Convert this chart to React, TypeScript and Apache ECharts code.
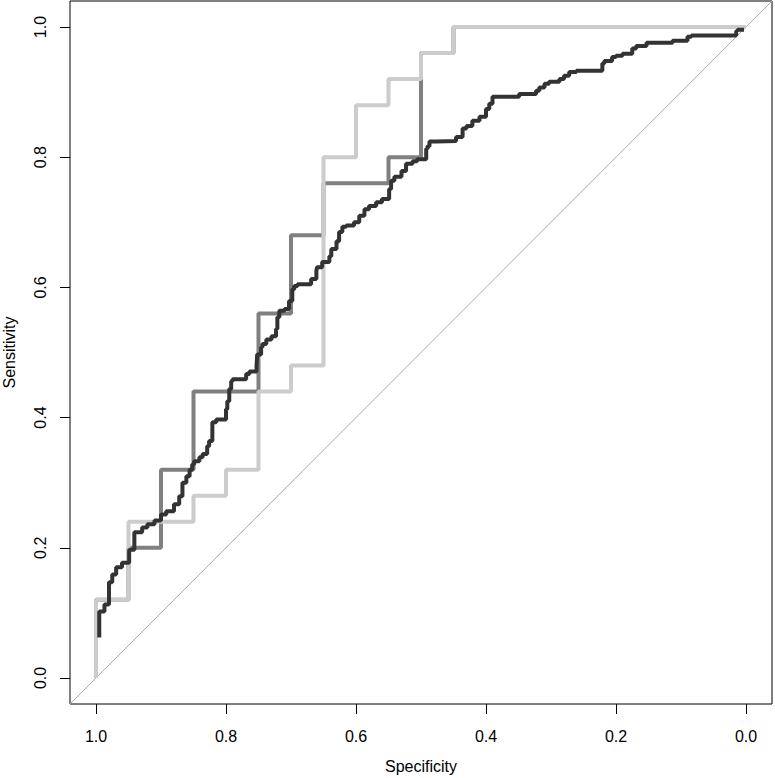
import React, { useEffect, useRef } from "react";
import * as echarts from "echarts";

// Reference (chance) line: sensitivity = 1 - specificity, across the whole box
const diagSpec = [1.04, -0.04];
const diagSens = [-0.04, 1.04];

// Light gray ROC curve
const lightSpec = [1, 1, 0.95, 0.95, 0.85, 0.85, 0.8, 0.8, 0.75, 0.75, 0.7, 0.7, 0.65, 0.65, 0.6, 0.6, 0.55, 0.55, 0.5, 0.5, 0.45, 0.45, 0];
const lightSens = [0, 0.12, 0.12, 0.24, 0.24, 0.28, 0.28, 0.32, 0.32, 0.44, 0.44, 0.48, 0.48, 0.8, 0.8, 0.88, 0.88, 0.92, 0.92, 0.96, 0.96, 1, 1];

// Medium gray ROC curve
const midSpec = [1, 1, 0.95, 0.95, 0.9, 0.9, 0.85, 0.85, 0.75, 0.75, 0.7, 0.7, 0.65, 0.65, 0.55, 0.55, 0.5, 0.5, 0.5, 0.45, 0.45, 0];
const midSens = [0, 0.12, 0.12, 0.2, 0.2, 0.32, 0.32, 0.44, 0.44, 0.56, 0.56, 0.68, 0.68, 0.76, 0.76, 0.8, 0.8, 0.92, 0.96, 0.96, 1, 1];

// Dark ROC curve (many small steps)
const darkSpec = [
  0.995, 0.995, 0.987, 0.986, 0.98, 0.98, 0.975, 0.969, 0.96, 0.949,
  0.949, 0.941, 0.941, 0.929, 0.921, 0.91, 0.9, 0.892, 0.88, 0.872,
  0.867, 0.867, 0.861, 0.856, 0.852, 0.849, 0.841, 0.836, 0.829, 0.826,
  0.821, 0.815, 0.8, 0.798, 0.795, 0.792, 0.79, 0.769, 0.764, 0.753,
  0.752, 0.746, 0.744, 0.738, 0.73, 0.723, 0.721, 0.718, 0.71, 0.703,
  0.698, 0.695, 0.69, 0.669, 0.661, 0.66, 0.652, 0.641, 0.638, 0.63,
  0.626, 0.621, 0.615, 0.603, 0.595, 0.587, 0.58, 0.569, 0.56, 0.549,
  0.546, 0.541, 0.53, 0.523, 0.513, 0.506, 0.492, 0.49, 0.487, 0.476,
  0.446, 0.436, 0.43, 0.421, 0.41, 0.4, 0.395, 0.39, 0.384, 0.349,
  0.346, 0.323, 0.318, 0.31, 0.303, 0.287, 0.28, 0.272, 0.261, 0.256,
  0.221, 0.218, 0.206, 0.2, 0.19, 0.175, 0.169, 0.153, 0.152, 0.113,
  0.107, 0.09, 0.084, 0.015, 0.013, 0.003,
];
const darkSens = [
  0.062, 0.102, 0.102, 0.113, 0.113, 0.14, 0.147, 0.159, 0.17, 0.177,
  0.187, 0.197, 0.21, 0.224, 0.231, 0.236, 0.242, 0.251, 0.256, 0.267,
  0.279, 0.29, 0.3, 0.31, 0.32, 0.328, 0.333, 0.339, 0.344, 0.356,
  0.364, 0.393, 0.397, 0.413, 0.425, 0.444, 0.456, 0.459, 0.467, 0.471,
  0.479, 0.497, 0.508, 0.513, 0.52, 0.525, 0.536, 0.554, 0.564, 0.567,
  0.579, 0.597, 0.602, 0.605, 0.613, 0.625, 0.631, 0.639, 0.648, 0.659,
  0.671, 0.685, 0.693, 0.695, 0.7, 0.71, 0.72, 0.725, 0.731, 0.736,
  0.751, 0.764, 0.77, 0.779, 0.79, 0.794, 0.797, 0.813, 0.817, 0.824,
  0.825, 0.831, 0.844, 0.848, 0.856, 0.862, 0.874, 0.882, 0.893, 0.893,
  0.897, 0.897, 0.902, 0.907, 0.913, 0.916, 0.92, 0.925, 0.931, 0.933,
  0.933, 0.944, 0.948, 0.954, 0.956, 0.959, 0.967, 0.971, 0.976, 0.976,
  0.979, 0.979, 0.985, 0.987, 0.994, 0.996,
];

const tickValues = [0, 0.2, 0.4, 0.6, 0.8, 1.0];

const pairs = (xs: number[], ys: number[]) => xs.map((x, i) => [x, ys[i]]);

const FONT = "Liberation Sans, Arial, Helvetica, sans-serif";

export default function App() {
  const ref = useRef<HTMLDivElement>(null);
  useEffect(() => {
    if (!ref.current) return;
    const chart = echarts.init(ref.current, null, { renderer: "svg" });
    const axisCommon = {
      type: "value" as const,
      min: -0.04,
      max: 1.04,
      axisLine: { show: false, onZero: false },
      splitLine: { show: false },
      nameLocation: "middle" as const,
      nameTextStyle: { color: "#000", fontSize: 16, fontFamily: FONT },
      axisTick: {
        show: true,
        inside: false,
        length: 10,
        customValues: tickValues,
        lineStyle: { color: "#000", width: 1 },
      },
    };
    chart.setOption({
      animation: false,
      backgroundColor: "#ffffff",
      grid: {
        show: true,
        left: 70,
        right: 3,
        top: 1,
        bottom: 74,
        outerBoundsMode: "none",
        containLabel: false,
        borderColor: "#000",
        borderWidth: 1,
        backgroundColor: "transparent",
      },
      xAxis: {
        ...axisCommon,
        position: "bottom",
        inverse: true,
        name: "Specificity",
        nameGap: 54,
        axisLabel: {
          show: true,
          customValues: tickValues,
          margin: 24,
          color: "#000",
          fontSize: 16,
          fontFamily: FONT,
          formatter: (v: number) => v.toFixed(1),
        },
      },
      yAxis: {
        ...axisCommon,
        position: "left",
        name: "Sensitivity",
        nameGap: 53,
        nameRotate: 90,
        axisLabel: {
          show: true,
          customValues: tickValues,
          margin: 22,
          rotate: 90,
          color: "#000",
          fontSize: 16,
          fontFamily: FONT,
          formatter: (v: number) => v.toFixed(1),
        },
      },
      series: [
        {
          name: "chance",
          type: "line",
          data: pairs(diagSpec, diagSens),
          symbol: "none",
          silent: true,
          lineStyle: { color: "#aaaaaa", width: 1 },
        },
        {
          name: "medium",
          type: "line",
          data: pairs(midSpec, midSens),
          symbol: "none",
          silent: true,
          lineStyle: { color: "#808080", width: 4 },
        },
        {
          name: "light",
          type: "line",
          data: pairs(lightSpec, lightSens),
          symbol: "none",
          silent: true,
          lineStyle: { color: "#cccccc", width: 4 },
        },
        {
          name: "dark",
          type: "line",
          step: "start",
          data: pairs(darkSpec, darkSens),
          symbol: "none",
          silent: true,
          lineStyle: { color: "#333333", width: 4 },
        },
      ],
    });
    return () => chart.dispose();
  }, []);
  return (
    <div
      ref={ref}
      style={{ position: "fixed", left: 0, top: 0, width: 775, height: 778, background: "#fff" }}
    />
  );
}
